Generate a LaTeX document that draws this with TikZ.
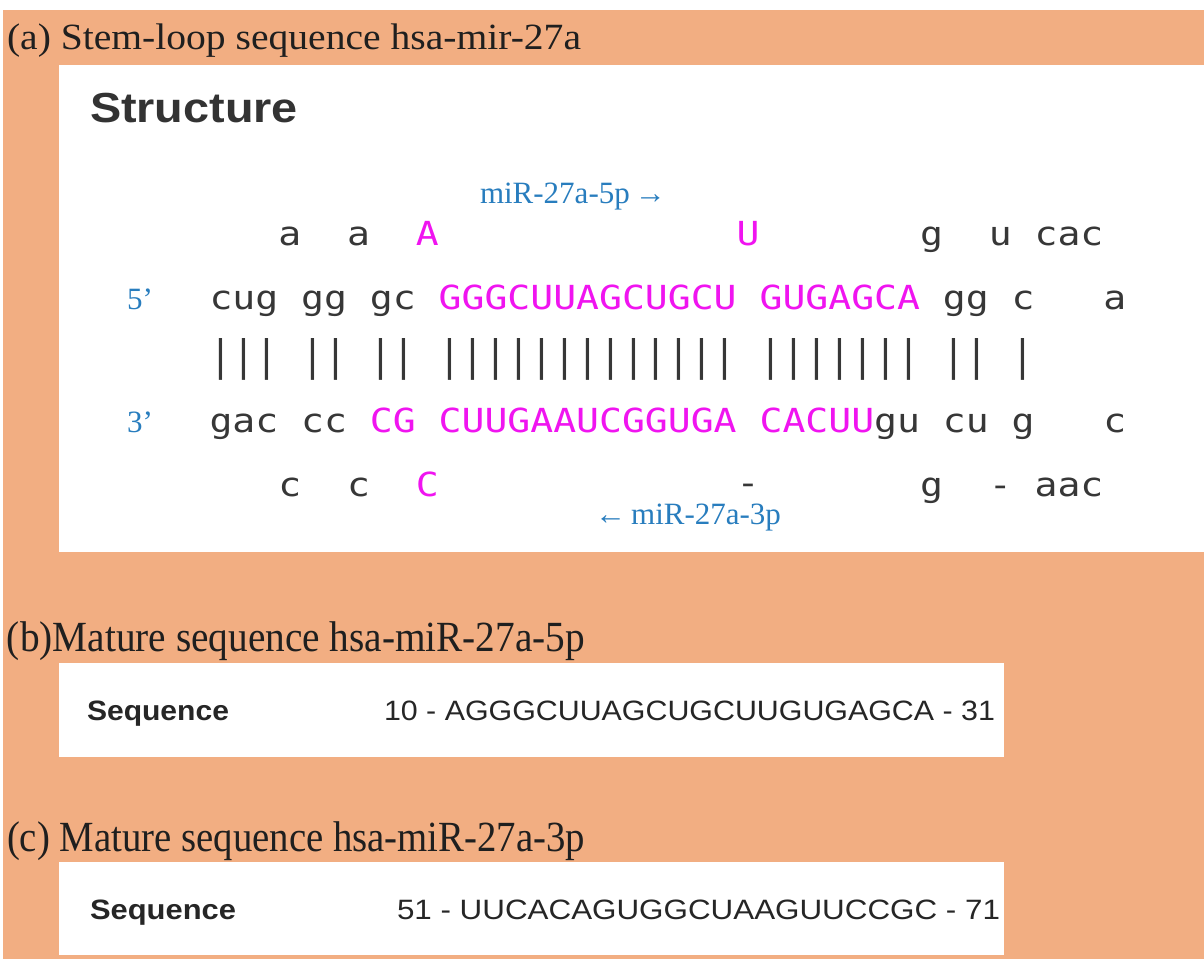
\documentclass[tikz,border=0pt]{standalone}
\usepackage{fontspec}
\usepackage{graphicx}
\setmainfont{Liberation Serif}
\newfontfamily\monofont{DejaVu Sans Mono}
\newfontfamily\arialfont{Liberation Sans}
\definecolor{bgorange}{RGB}{242,174,130}
\definecolor{seqgray}{RGB}{55,55,55}
\definecolor{mag}{RGB}{240,20,240}
\definecolor{labblue}{RGB}{40,125,190}
\newcommand{\vsq}[1]{\scalebox{1}[0.87]{#1}}
\newcommand{\vbar}[1]{\scalebox{1}[1.1]{#1}}
\newcommand{\fitw}[2]{\resizebox{#1}{\height}{#2}}
\tikzset{
  basew/.style={anchor=base west, inner sep=0pt, outer sep=0pt},
  nt/.style={basew, font=\monofont\fontsize{38.07}{40}\selectfont, text=seqgray},
  mt/.style={nt, text=mag},
  lab/.style={basew, font=\fontsize{31}{36}\selectfont, text=labblue},
  ttl/.style={basew, text=black!88},
  seqtxt/.style={basew, font=\arialfont\fontsize{28}{32}\selectfont, text=black!85},
  panel/.style={fill=white, draw=none}
}
\begin{document}
\begin{tikzpicture}[x=1pt,y=-1pt]
\useasboundingbox (0,0) rectangle (1204,959);
\fill[white] (0,0) rectangle (1204,959);
\fill[bgorange] (3,10) rectangle (1204,959);
% panels
\fill[panel] (59,65) rectangle (1204,552);
\fill[panel] (59,663) rectangle (1004,757);
\fill[panel] (59,862) rectangle (1004,955);
% titles
\node[ttl, font=\fontsize{37}{42}\selectfont] (ta) at (7,49) {\fitw{574pt}{(a) Stem-loop sequence hsa-mir-27a}};
\node[ttl, font=\fontsize{43}{48}\selectfont] (tb) at (7,651) {\fitw{578pt}{(b)Mature sequence hsa-miR-27a-5p}};
\node[ttl, font=\fontsize{43}{48}\selectfont] (tc) at (7,851) {\fitw{578pt}{(c) Mature sequence hsa-miR-27a-3p}};
% Structure heading
\node[basew, font=\arialfont\bfseries\fontsize{42}{46}\selectfont, text=black!80] (hd) at (90,122) {\fitw{208pt}{Structure}};
% blue labels
\node[lab] (l5p) at (480,203) {miR-27a-5p\,→};
\node[lab] (l3p) at (595,524) {←\,miR-27a-3p};
\node[lab] (e5) at (127,309) {5’};
\node[lab] (e3) at (127,432) {3’};
% row 1 (unpaired, top)
\node[nt] (r1a) at ({209.5+3*22.92},245) {\vsq{a}};
\node[nt] (r1b) at ({209.5+6*22.92},245) {\vsq{a}};
\node[mt] (r1c) at ({209.5+9*22.92},245) {\vsq{A}};
\node[mt] (r1d) at ({209.5+23*22.92},245) {\vsq{U}};
\node[nt] (r1e) at ({209.5+31*22.92},245) {\vsq{g}};
\node[nt] (r1f) at ({209.5+34*22.92},245) {\vsq{u}};
\node[nt] (r1g) at ({209.5+36*22.92},245) {\vsq{cac}};
% row 2 (5' strand)
\node[nt] (r2a) at ({209.5+0*22.92},309) {\vsq{cug}};
\node[nt] (r2b) at ({209.5+4*22.92},309) {\vsq{gg}};
\node[nt] (r2c) at ({209.5+7*22.92},309) {\vsq{gc}};
\node[mt] (r2d) at ({209.5+10*22.92},309) {\vsq{GGGCUUAGCUGCU}};
\node[mt] (r2e) at ({209.5+24*22.92},309) {\vsq{GUGAGCA}};
\node[nt] (r2f) at ({209.5+32*22.92},309) {\vsq{gg}};
\node[nt] (r2g) at ({209.5+35*22.92},309) {\vsq{c}};
\node[nt] (r2h) at ({209.5+39*22.92},309) {\vsq{a}};
% row 3 (pairs)
\node[nt] (r3a) at ({209.5+0*22.92},370) {\vbar{|||}};
\node[nt] (r3b) at ({209.5+4*22.92},370) {\vbar{||}};
\node[nt] (r3c) at ({209.5+7*22.92},370) {\vbar{||}};
\node[nt] (r3d) at ({209.5+10*22.92},370) {\vbar{|||||||||||||}};
\node[nt] (r3e) at ({209.5+24*22.92},370) {\vbar{|||||||}};
\node[nt] (r3f) at ({209.5+32*22.92},370) {\vbar{||}};
\node[nt] (r3g) at ({209.5+35*22.92},370) {\vbar{|}};
% row 4 (3' strand)
\node[nt] (r4a) at ({209.5+0*22.92},432) {\vsq{gac}};
\node[nt] (r4b) at ({209.5+4*22.92},432) {\vsq{cc}};
\node[mt] (r4c) at ({209.5+7*22.92},432) {\vsq{CG}};
\node[mt] (r4d) at ({209.5+10*22.92},432) {\vsq{CUUGAAUCGGUGA}};
\node[mt] (r4e) at ({209.5+24*22.92},432) {\vsq{CACUU}};
\node[nt] (r4f) at ({209.5+29*22.92},432) {\vsq{gu}};
\node[nt] (r4g) at ({209.5+32*22.92},432) {\vsq{cu}};
\node[nt] (r4h) at ({209.5+35*22.92},432) {\vsq{g}};
\node[nt] (r4i) at ({209.5+39*22.92},432) {\vsq{c}};
% row 5 (unpaired, bottom)
\node[nt] (r5a) at ({209.5+3*22.92},496) {\vsq{c}};
\node[nt] (r5b) at ({209.5+6*22.92},496) {\vsq{c}};
\node[mt] (r5c) at ({209.5+9*22.92},496) {\vsq{C}};
\node[nt] (r5d) at ({209.5+23*22.92},494) {\vsq{-}};
\node[nt] (r5e) at ({209.5+31*22.92},496) {\vsq{g}};
\node[nt] (r5f) at ({209.5+34*22.92},496) {\vsq{-}};
\node[nt] (r5g) at ({209.5+36*22.92},496) {\vsq{aac}};
% mature sequences
\node[seqtxt, font=\arialfont\bfseries\fontsize{28}{32}\selectfont] (sb) at (87,720) {\fitw{142pt}{Sequence}};
\node[seqtxt] (qb) at (384,720) {\fitw{611pt}{10 - AGGGCUUAGCUGCUUGUGAGCA - 31}};
\node[seqtxt, font=\arialfont\bfseries\fontsize{28}{32}\selectfont] (sc) at (90,919) {\fitw{146pt}{Sequence}};
\node[seqtxt] (qc) at (397,919) {\fitw{603pt}{51 - UUCACAGUGGCUAAGUUCCGC - 71}};
\end{tikzpicture}
\end{document}
